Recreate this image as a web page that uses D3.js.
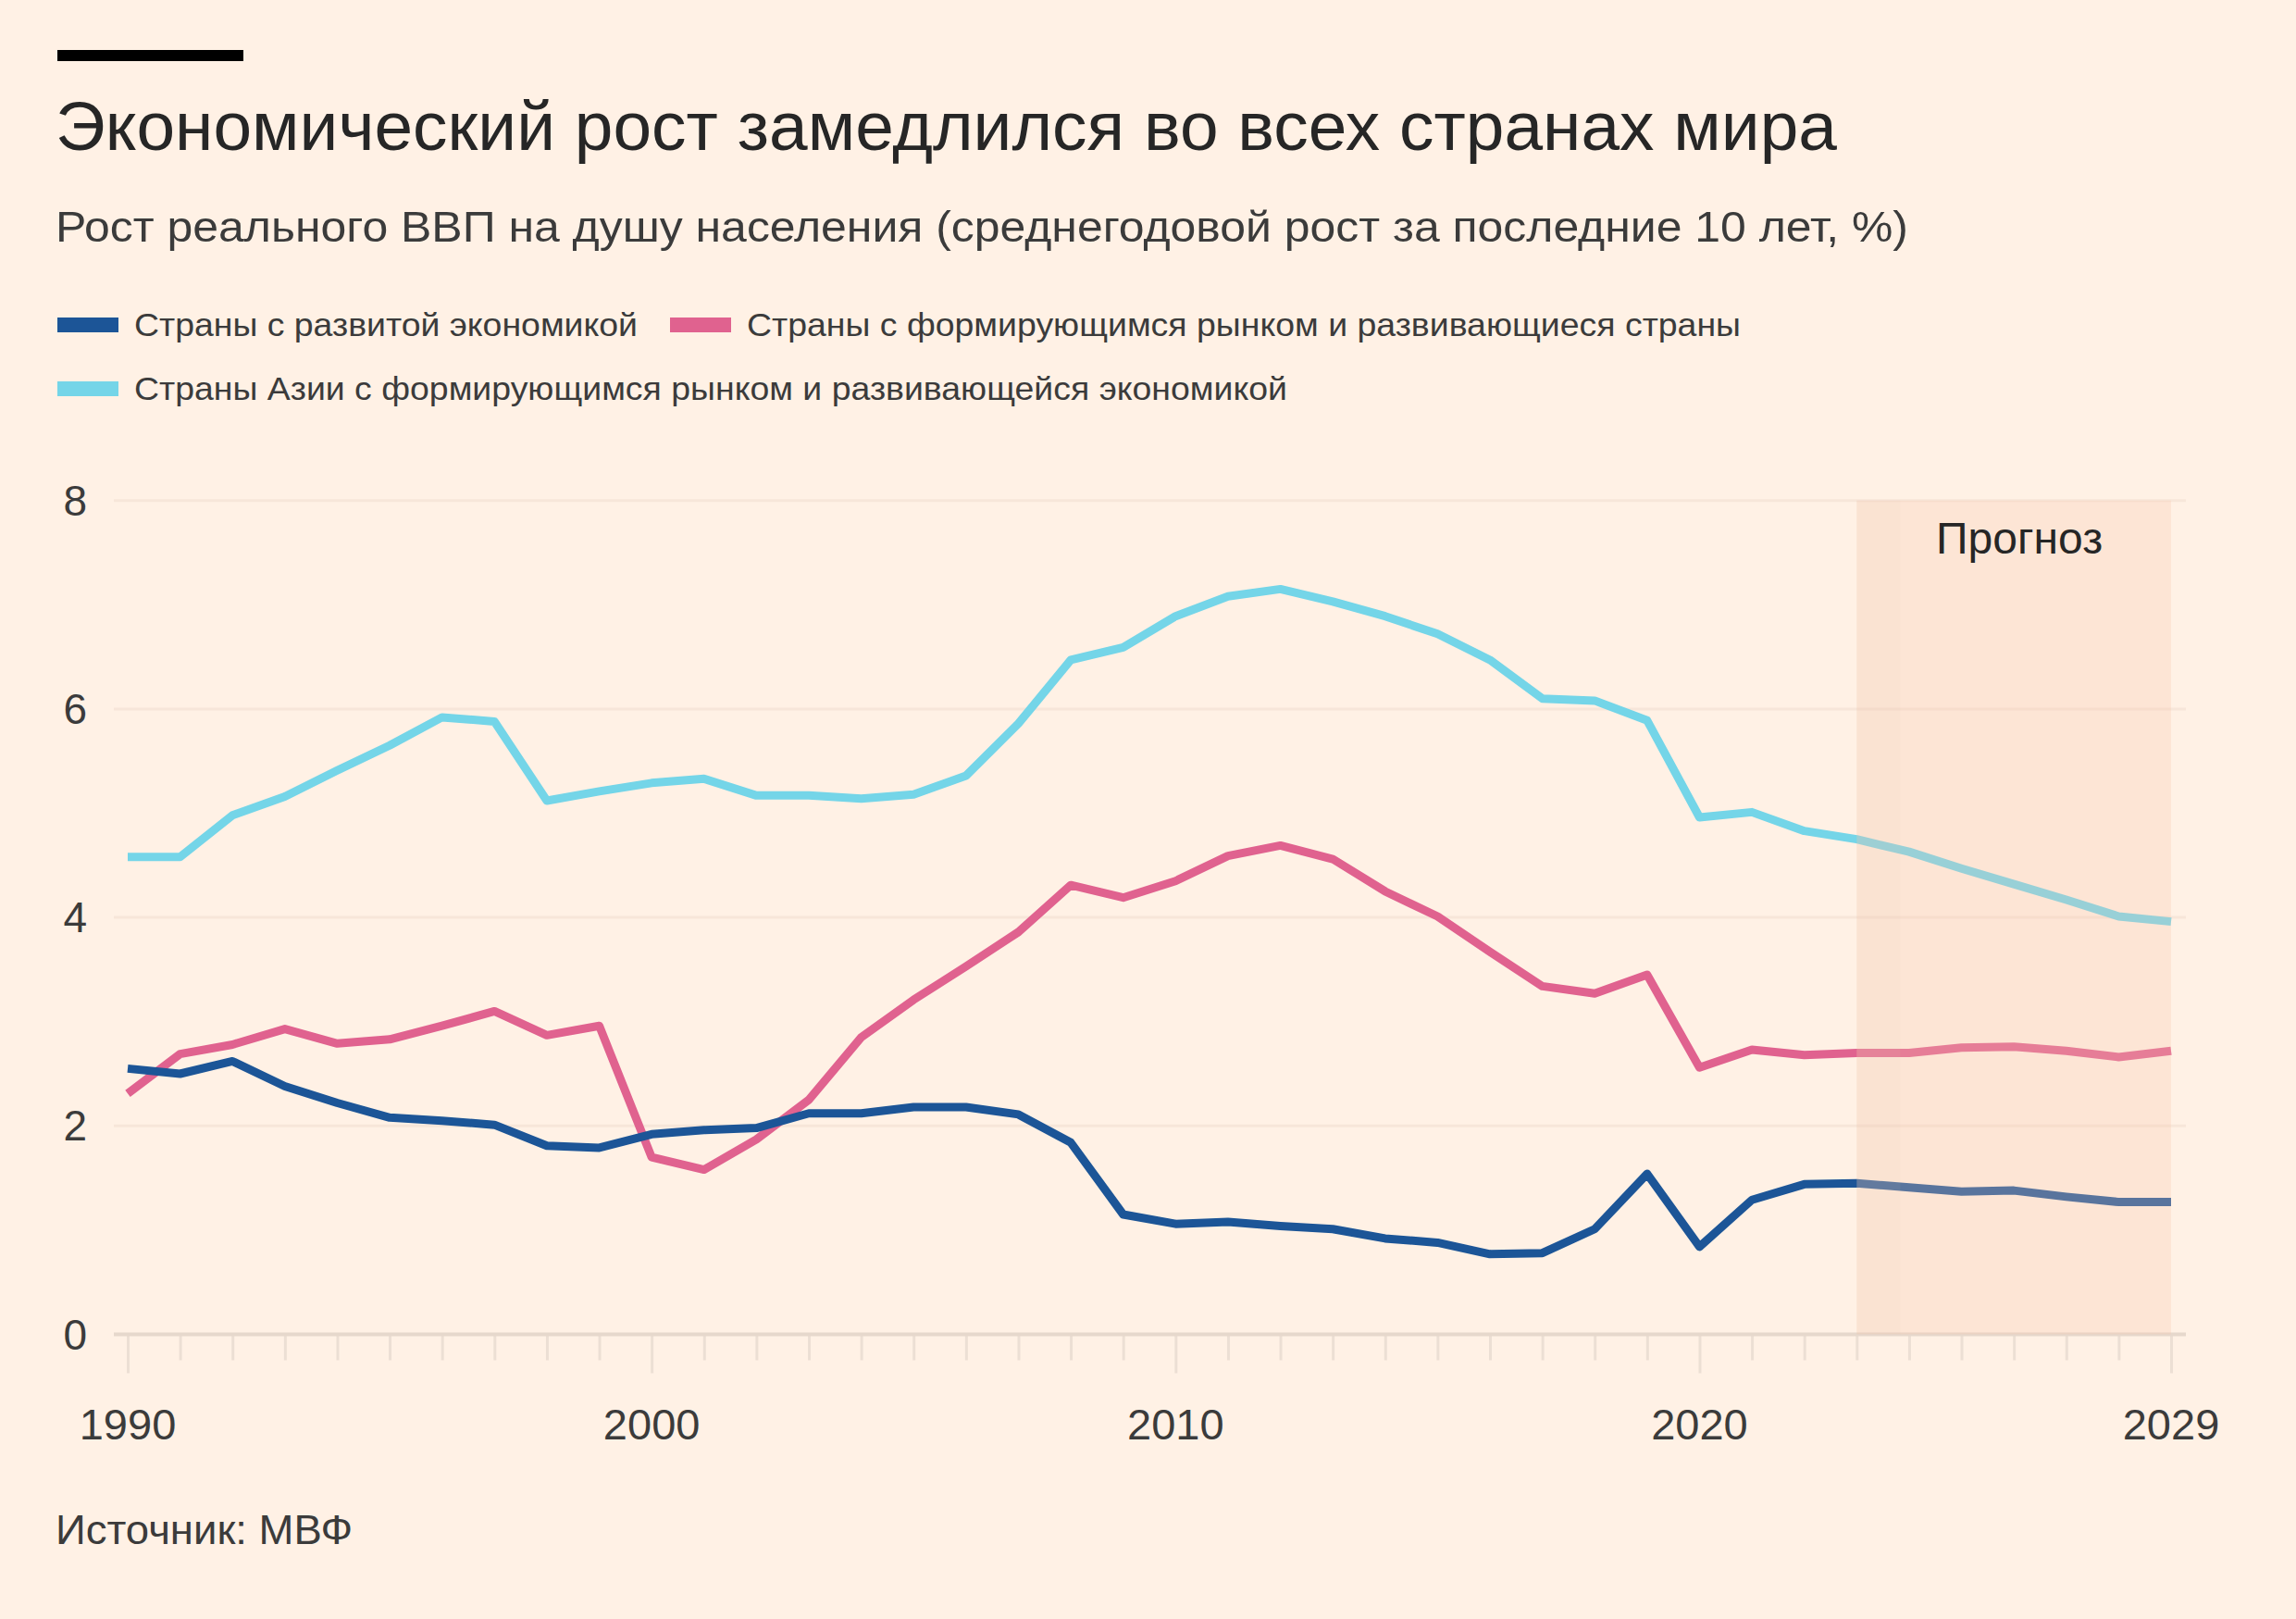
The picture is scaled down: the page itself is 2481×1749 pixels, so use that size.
<!DOCTYPE html>
<html>
<head>
<meta charset="utf-8">
<script src="https://cdn.jsdelivr.net/npm/d3@7"></script>
<style>
  html, body { margin: 0; padding: 0; background: #fff1e5; }
  svg { display: block; }
  text { font-family: "Liberation Sans", Arial, sans-serif; }
</style>
</head>
<body>
<script>
// ---- data ----
const years = [1990,1991,1992,1993,1994,1995,1996,1997,1998,1999,
               2000,2001,2002,2003,2004,2005,2006,2007,2008,2009,
               2010,2011,2012,2013,2014,2015,2016,2017,2018,2019,
               2020,2021,2022,2023,2024,2025,2026,2027,2028,2029];

const advanced = [2.55,2.50,2.62,2.38,2.22,2.08,2.05,2.01,1.81,1.79,
                  1.92,1.96,1.98,2.12,2.12,2.18,2.18,2.11,1.84,1.15,
                  1.06,1.08,1.04,1.01,0.92,0.88,0.77,0.78,1.01,1.54,
                  0.84,1.29,1.44,1.45,1.41,1.37,1.38,1.32,1.27,1.27];

const emerging = [2.31,2.69,2.78,2.93,2.79,2.83,2.96,3.10,2.87,2.96,
                  1.70,1.58,1.87,2.25,2.85,3.21,3.53,3.86,4.31,4.19,
                  4.35,4.59,4.69,4.56,4.25,4.01,3.67,3.34,3.27,3.45,
                  2.56,2.73,2.68,2.70,2.70,2.75,2.76,2.72,2.66,2.72];

const asia = [4.58,4.58,4.98,5.16,5.41,5.65,5.92,5.88,5.12,5.21,
              5.29,5.33,5.17,5.17,5.14,5.18,5.36,5.86,6.47,6.59,
              6.89,7.08,7.15,7.03,6.89,6.72,6.47,6.10,6.08,5.89,
              4.96,5.01,4.83,4.75,4.63,4.47,4.32,4.17,4.01,3.96];

const seriesNames = [
  "Страны с развитой экономикой",
  "Страны с формирующимся рынком и развивающиеся страны",
  "Страны Азии с формирующимся рынком и развивающейся экономикой"
];
const seriesColors = ["#1c5597", "#e0628f", "#74d5e8"];
const yTicks = [0, 2, 4, 6, 8];
const xLabelYears = [1990, 2000, 2010, 2020, 2029];
const forecastStart = 2023;
const forecastEnd = 2029;

const titleText = "Экономический рост замедлился во всех странах мира";
const subtitleText = "Рост реального ВВП на душу населения (среднегодовой рост за последние 10 лет, %)";
const forecastLabel = "Прогноз";
const sourceText = "Источник: МВФ";

// ---- layout ----
const W = 2481, H = 1749;
const svg = d3.select("body").append("svg").attr("width", W).attr("height", H);
svg.append("rect").attr("width", W).attr("height", H).attr("fill", "#fff1e5");

const x = d3.scaleLinear().domain([1990, 2029]).range([138, 2346]);
const y = d3.scaleLinear().domain([0, 8]).range([1441.5, 540.7]);
const gridX0 = 123, gridX1 = 2362;

// top bar
svg.append("rect").attr("x", 62).attr("y", 54).attr("width", 201).attr("height", 12).attr("fill", "#000");

svg.append("text").attr("x", 60).attr("y", 162).attr("font-size", 74).attr("fill", "#262626")
  .attr("textLength", 1925).attr("lengthAdjust", "spacingAndGlyphs").text(titleText);
svg.append("text").attr("x", 60).attr("y", 261).attr("font-size", 47).attr("fill", "#3b3b3b")
  .attr("textLength", 2002).attr("lengthAdjust", "spacingAndGlyphs").text(subtitleText);

// legend
const legendPos = [[62, 343], [724, 343], [62, 412]];
const legendLen = [544, 1074, 1246];
seriesNames.forEach((name, i) => {
  const g = svg.append("g");
  g.append("rect").attr("x", legendPos[i][0]).attr("y", legendPos[i][1]).attr("width", 66).attr("height", 16).attr("fill", seriesColors[i]);
  g.append("text").attr("x", legendPos[i][0] + 83).attr("y", legendPos[i][1] + 20)
    .attr("font-size", 35).attr("fill", "#3b3b3b")
    .attr("textLength", legendLen[i]).attr("lengthAdjust", "spacingAndGlyphs").text(name);
});

// gridlines
svg.append("g").selectAll("line").data(yTicks.filter(d => d > 0)).join("line")
  .attr("x1", gridX0).attr("x2", gridX1).attr("y1", d => y(d)).attr("y2", d => y(d))
  .attr("stroke", "#f7e6d9").attr("stroke-width", 3);

// y labels
svg.append("g").selectAll("text").data(yTicks).join("text")
  .attr("x", 94).attr("y", d => y(d)).attr("dy", "0.35em").attr("text-anchor", "end")
  .attr("font-size", 46).attr("fill", "#3b3b3b").text(d => d);

// x axis
const xAxis = d3.axisBottom(x).tickValues(years).tickFormat("").tickSizeOuter(0).tickSize(28);
const axG = svg.append("g").attr("transform", `translate(0,${y(0)})`).call(xAxis);
axG.select(".domain").remove();
axG.selectAll(".tick line").attr("stroke", "#ecdfd4").attr("stroke-width", 3)
  .attr("y2", d => xLabelYears.includes(d) ? 42 : 28);
svg.append("line").attr("x1", gridX0).attr("x2", gridX1).attr("y1", y(0)).attr("y2", y(0))
  .attr("stroke", "#e6d8cc").attr("stroke-width", 4);

svg.append("g").selectAll("text").data(xLabelYears).join("text")
  .attr("x", d => x(d)).attr("y", 1555).attr("text-anchor", "middle")
  .attr("font-size", 47).attr("fill", "#3b3b3b").text(d => d);

// lines
const allSeries = [advanced, emerging, asia];
const line = d3.line().x((d, i) => x(years[i])).y(d => y(d));
[asia, emerging, advanced].forEach((s) => {
  const idx = allSeries.indexOf(s);
  svg.append("path").datum(s).attr("d", line).attr("fill", "none")
    .attr("stroke", seriesColors[idx]).attr("stroke-width", 9)
    .attr("stroke-linejoin", "round").attr("stroke-linecap", "butt");
});

// forecast band (overlaid)
svg.append("rect").attr("x", x(forecastStart)).attr("y", y(8))
  .attr("width", x(forecastEnd) - x(forecastStart)).attr("height", y(0) - y(8))
  .attr("fill", "#f9c6ac").attr("opacity", 0.28);
svg.append("rect").attr("x", x(forecastStart)).attr("y", y(8))
  .attr("width", 47).attr("height", y(0) - y(8))
  .attr("fill", "#d9c8b8").attr("opacity", 0.08);

svg.append("text").attr("x", (x(forecastStart) + x(forecastEnd)) / 2 + 6).attr("y", 598)
  .attr("text-anchor", "middle").attr("font-size", 48).attr("fill", "#262626").text(forecastLabel);

// source
svg.append("text").attr("x", 60).attr("y", 1668).attr("font-size", 45).attr("fill", "#3b3b3b")
  .attr("textLength", 321).attr("lengthAdjust", "spacingAndGlyphs").text(sourceText);
</script>
</body>
</html>
